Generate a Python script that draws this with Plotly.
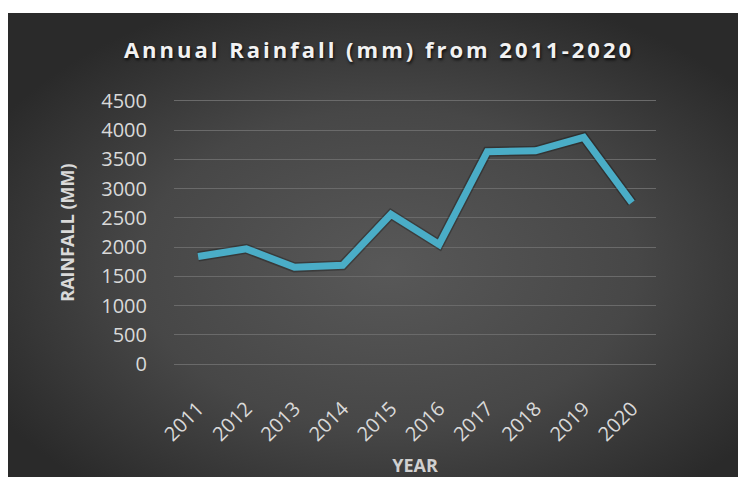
import base64
import plotly.graph_objects as go

years = ["2011", "2012", "2013", "2014", "2015", "2016", "2017", "2018", "2019", "2020"]
rainfall = [1840, 1970, 1655, 1690, 2560, 2045, 3630, 3645, 3875, 2760]
y_ticks = [0, 500, 1000, 1500, 2000, 2500, 3000, 3500, 4000, 4500]

W, H = 738, 477
L, R, T, B = 174, 82, 99, 111
pw, ph = W - L - R, H - T - B

svg = """<svg xmlns='http://www.w3.org/2000/svg' width='730' height='464' viewBox='0 0 730 464' preserveAspectRatio='none'>
<defs><radialGradient id='g' cx='0.52' cy='0.55' r='0.62' fx='0.52' fy='0.55'>
<stop offset='0' stop-color='#585858'/><stop offset='0.55' stop-color='#474747'/><stop offset='1' stop-color='#2a2a2a'/>
</radialGradient></defs><rect width='730' height='464' fill='url(#g)'/></svg>"""
src = "data:image/svg+xml;base64," + base64.b64encode(svg.encode()).decode()

def px2x(px):
    return (px - L) / pw

def py2y(py):
    return (H - B - py) / ph

fig = go.Figure()
# shadow
fig.add_trace(go.Scatter(
    x=years, y=rainfall, mode="lines",
    line=dict(color="rgba(0,0,0,0.28)", width=10),
    hoverinfo="skip", showlegend=False,
))
fig.add_trace(go.Scatter(
    x=years, y=rainfall, mode="lines",
    line=dict(color="#4aadc7", width=7),
    showlegend=False,
))

fig.update_layout(
    width=W, height=H,
    margin=dict(l=L, r=R, t=T, b=B),
    paper_bgcolor="white",
    plot_bgcolor="rgba(0,0,0,0)",
    images=[dict(
        source=src, xref="paper", yref="paper",
        x=px2x(8), y=py2y(13), sizex=px2x(W) - px2x(8), sizey=py2y(13) - py2y(H),
        sizing="stretch", xanchor="left", yanchor="top", layer="below",
    )],
    title=dict(
        text="<span style='letter-spacing:3px'>Annual Rainfall (mm) from 2011-2020</span>",
        xref="container", x=379 / W, xanchor="center",
        yref="container", y=1 - 50 / H, yanchor="middle",
        font=dict(family="Open Sans", size=22, color="#f2f2f2", weight="bold",
                  shadow="1px 2px 3px rgba(0,0,0,0.8)"),
    ),
    font=dict(family="Open Sans", color="#d9d9d9"),
)

fig.update_xaxes(
    type="category", categoryorder="array", categoryarray=years,
    showgrid=False, zeroline=False, showline=False, automargin=False,
    ticks="outside", ticklen=22, tickcolor="rgba(0,0,0,0)",
    tickangle=-45, tickfont=dict(size=20, color="#d9d9d9"),
    title=dict(text="YEAR", font=dict(size=18, color="#d0d0d0", weight="bold"), standoff=20),
    range=[-0.5, 9.5],
)
fig.update_yaxes(
    range=[-30, 4530], tickvals=y_ticks, ticktext=[str(v) for v in y_ticks],
    showgrid=True, gridcolor="#6a6a6a", gridwidth=1.2, zeroline=False, showline=False,
    automargin=False,
    ticks="outside", ticklen=22, tickcolor="rgba(0,0,0,0)",
    tickfont=dict(size=20, color="#d9d9d9"),
    title=dict(text="RAINFALL (MM)", font=dict(size=18, color="#d9d9d9", weight="bold"), standoff=21),
)

fig.write_html("out.html")
